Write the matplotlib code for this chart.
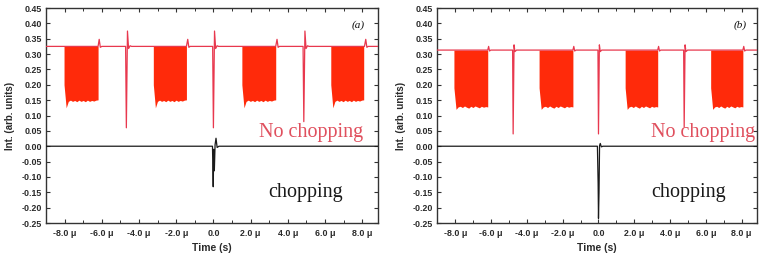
import numpy as np
import matplotlib
matplotlib.use("Agg")
import matplotlib.pyplot as plt
from matplotlib.ticker import MultipleLocator, FixedLocator

# ---------------- data ----------------
x_ticks = [-8, -6, -4, -2, 0, 2, 4, 6, 8]
x_ticklabels = ["-8.0 μ", "-6.0 μ", "-4.0 μ", "-2.0 μ", "0.0", "2.0 μ", "4.0 μ", "6.0 μ", "8.0 μ"]
y_ticks = [-0.25, -0.20, -0.15, -0.10, -0.05, 0.00, 0.05, 0.10, 0.15, 0.20, 0.25, 0.30, 0.35, 0.40, 0.45]
y_ticklabels = ["-0.25", "-0.20", "-0.15", "-0.10", "-0.05", "0.00", "0.05", "0.10",
                "0.15", "0.20", "0.25", "0.30", "0.35", "0.40", "0.45"]

# panel (a) -- "No chopping" trace (time in μs)
a_red_x = [-9.0, -6.20, -6.14, -6.08, -6.00,
           -4.72, -4.68, -4.62, -4.56, -4.48, -4.40,
           -1.45, -1.38, -1.32, -1.25,
           -0.04, 0.00, 0.06, 0.12, 0.20, 0.28,
           3.35, 3.42, 3.48, 3.55,
           4.82, 4.86, 4.92, 4.98, 5.06, 5.14,
           8.12, 8.19, 8.25, 8.32, 8.90]
a_red_y = [0.325, 0.325, 0.348, 0.322, 0.325,
           0.325, 0.060, 0.375, 0.318, 0.327, 0.325,
           0.325, 0.348, 0.322, 0.325,
           0.325, 0.060, 0.375, 0.318, 0.327, 0.325,
           0.325, 0.348, 0.322, 0.325,
           0.325, 0.080, 0.375, 0.318, 0.327, 0.325,
           0.325, 0.348, 0.322, 0.325, 0.325]
a_block_start = [-8.03, -3.23, 1.53, 6.31]
a_block_end = [-6.20, -1.45, 3.35, 8.08]
a_block_top = 0.325
a_block_bottom = [0.200, 0.125, 0.146, 0.150, 0.146, 0.149, 0.145, 0.150, 0.146,
                  0.149, 0.145, 0.150, 0.146, 0.149, 0.147, 0.150, 0.151]
# panel (a) -- "chopping" trace
a_blk_x = [-9.0, -0.05, -0.01, 0.02, 0.05, 0.09, 0.14, 0.20, 0.30, 8.90]
a_blk_y = [0.000, 0.000, -0.132, -0.010, -0.080, 0.005, 0.026, -0.004, 0.000, 0.000]

# panel (b) -- "No chopping" trace
b_red_x = [-9.0, -6.19, -6.14, -6.09, -6.02,
           -4.80, -4.77, -4.72, -4.67, -4.58,
           -1.43, -1.38, -1.33, -1.26,
           -0.03, 0.00, 0.05, 0.10, 0.18,
           3.31, 3.36, 3.41, 3.48,
           4.76, 4.79, 4.84, 4.89, 4.98,
           8.07, 8.12, 8.17, 8.24, 8.90]
b_red_y = [0.313, 0.313, 0.325, 0.310, 0.313,
           0.313, 0.040, 0.330, 0.308, 0.313,
           0.313, 0.325, 0.310, 0.313,
           0.313, 0.040, 0.330, 0.308, 0.313,
           0.313, 0.325, 0.310, 0.313,
           0.313, 0.063, 0.330, 0.308, 0.313,
           0.313, 0.325, 0.310, 0.313, 0.313]
b_block_start = [-8.08, -3.32, 1.49, 6.27]
b_block_end = [-6.19, -1.43, 3.31, 8.07]
b_block_top = 0.313
b_block_bottom = [0.190, 0.120, 0.128, 0.130, 0.126, 0.131, 0.127, 0.124, 0.130,
                  0.126, 0.131, 0.128, 0.125, 0.130, 0.127, 0.129, 0.128]
# panel (b) -- "chopping" trace
b_blk_x = [-9.0, -0.06, -0.02, 0.00, 0.03, 0.06, 0.10, 0.16, 0.25, 8.90]
b_blk_y = [0.000, 0.000, -0.120, -0.235, -0.150, 0.002, 0.009, -0.002, 0.000, 0.000]

panels = [
    dict(label="(a)", red_x=a_red_x, red_y=a_red_y, bs=a_block_start, be=a_block_end,
         top=a_block_top, bottom=a_block_bottom, blk_x=a_blk_x, blk_y=a_blk_y,
         rect=[0.0602, 0.122, 0.4346, 0.8465], nc_x=2.45, ch_x=2.95, lab_x=8.12),
    dict(label="(b)", red_x=b_red_x, red_y=b_red_y, bs=b_block_start, be=b_block_end,
         top=b_block_top, bottom=b_block_bottom, blk_x=b_blk_x, blk_y=b_blk_y,
         rect=[0.5726, 0.122, 0.4180, 0.8465], nc_x=2.95, ch_x=2.95, lab_x=8.3),
]

# ---------------- figure ----------------
fig = plt.figure(figsize=(7.64, 2.54), dpi=100)
fill_col = "#ff2a0a"
line_col = "#e8384e"
text_red = "#e0505e"
tick_font = dict(family="Liberation Sans", size=6.4, weight="bold", color="#2a2a2a")

for p in panels:
    ax = fig.add_axes(p["rect"])
    ax.set_xlim(-9.0, 8.85)
    ax.set_ylim(-0.25, 0.45)

    for s, e in zip(p["bs"], p["be"]):
        xs = np.linspace(s, e, len(p["bottom"]))
        ax.fill_between(xs, p["bottom"], p["top"], color=fill_col, linewidth=0, zorder=2)
    ax.plot(p["red_x"], p["red_y"], color=line_col, lw=0.9, zorder=3)
    ax.plot(p["blk_x"], p["blk_y"], color="#1a1a1a", lw=0.9, zorder=3)

    ax.text(p["nc_x"], 0.030, "No chopping", family="Liberation Serif", fontsize=14.5,
            color=text_red, ha="left", va="baseline", zorder=4)
    ax.text(p["ch_x"], -0.165, "chopping", family="Liberation Serif", fontsize=14.5,
            color="#1a1a1a", ha="left", va="baseline", zorder=4)
    ax.text(p["lab_x"], 0.395, p["label"], family="Liberation Serif", style="italic",
            fontsize=8, color="#111111", ha="right", va="center")

    ax.xaxis.set_major_locator(FixedLocator(x_ticks))
    ax.set_xticklabels(x_ticklabels, fontdict=tick_font)
    ax.xaxis.set_minor_locator(MultipleLocator(1))
    ax.yaxis.set_major_locator(FixedLocator(y_ticks))
    ax.set_yticklabels(y_ticklabels, fontdict=tick_font)
    ax.tick_params(which="both", direction="in", top=True, right=True, color="#333333")
    ax.tick_params(which="major", length=3, width=0.8)
    ax.tick_params(which="minor", length=2, width=0.7)
    ax.tick_params(axis="x", pad=4)
    ax.tick_params(axis="y", pad=3)
    for sp in ax.spines.values():
        sp.set_linewidth(1.0)
        sp.set_color("#333333")

    ax.set_xlabel("Time (s)", family="Liberation Sans", fontsize=7.5, weight="bold",
                  color="#2a2a2a", labelpad=4)
    ax.set_ylabel("Int. (arb. units)", family="Liberation Sans", fontsize=7, weight="bold",
                  color="#2a2a2a", labelpad=5)

fig.savefig("out.png", dpi=100)
